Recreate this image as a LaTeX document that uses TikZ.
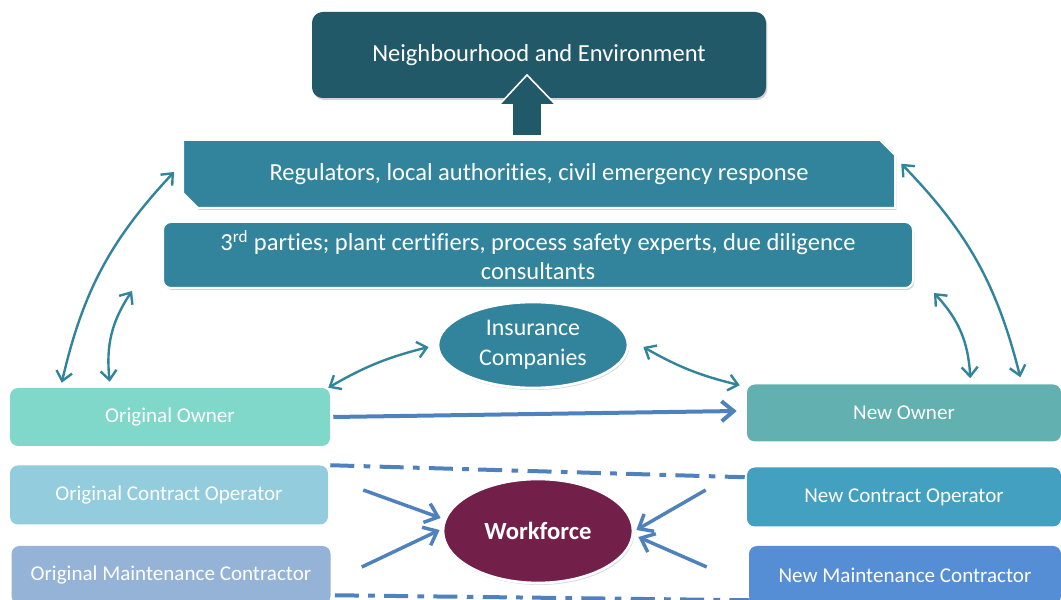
\documentclass[tikz,border=0pt]{standalone}
\usepackage{fontspec}
\setmainfont{Carlito}[Ligatures=NoCommon]
\usetikzlibrary{arrows.meta,shapes.misc,shapes.geometric,shadows}
\definecolor{envteal}{HTML}{215968}
\definecolor{regteal}{HTML}{31849B}
\definecolor{ownerL}{HTML}{80D8CB}
\definecolor{operL}{HTML}{93CDDD}
\definecolor{maintL}{HTML}{95B3D7}
\definecolor{ownerR}{HTML}{62B0B0}
\definecolor{operR}{HTML}{43A0C0}
\definecolor{maintR}{HTML}{558ED5}
\definecolor{linkblue}{HTML}{4F81BD}
\definecolor{wine}{HTML}{722049}
\def\PX{0.75pt}
\tikzset{
BOX/.style={draw=none, rounded corners=6pt, text=white, inner sep=0pt,
  font=\fontsize{15.8}{18}\selectfont, minimum width=#1*\PX, minimum height=58*\PX},
BOX/.default = 318,
BANNER/.style={fill=regteal, draw=white, line width=1.5pt, text=white,
  drop shadow={opacity=0.35, shadow xshift=1pt, shadow yshift=-1.5pt},
  font=\fontsize{18.4}{22}\selectfont, inner sep=0pt},
BLOB/.style={ellipse, draw=white, line width=2pt, text=white, inner sep=0pt,
  drop shadow={opacity=0.3, shadow xshift=1pt, shadow yshift=-1.5pt}},
TWOWAY/.style={draw=regteal, line width=1.8pt,
  {Straight Barb[length=7pt,width=12pt]}-{Straight Barb[length=7pt,width=12pt]}},
ONEWAY/.style={draw=linkblue, line width=#1, -{Straight Barb[length=9pt,width=15pt]}},
ONEWAY/.default = 2.6pt,
SPLIT/.style={draw=linkblue, line width=3pt, dash pattern=on 18pt off 7pt on 5pt off 7pt},
}
\begin{document}
\begin{tikzpicture}[x=0.75pt, y=0.75pt]
\clip (0,0) rectangle (1061,600);
\node[BOX, fill=envteal, rounded corners=8pt, minimum width=454*\PX, minimum height=86*\PX,
  font=\fontsize{18.4}{22}\selectfont,
  drop shadow={opacity=0.35, shadow xshift=1pt, shadow yshift=-1.5pt}] (env) at (539,545)
  {Neighbourhood and Environment};
\node[BANNER, chamfered rectangle, chamfered rectangle corners={north east,south west},
  chamfered rectangle xsep=8pt, minimum width=712*\PX, minimum height=68*\PX] (reg) at (539,426)
  {Regulators, local authorities, civil emergency response};
\node[BANNER, rectangle, rounded corners=6pt, minimum width=750*\PX, minimum height=66*\PX,
  align=center] (third) at (538,345)
  {3\textsuperscript{rd} parties; plant certifiers, process safety experts, due diligence\\consultants};
% block arrow up to the neighbourhood
\draw[fill=envteal, draw=white, line width=1.2pt]
  (512,464) -- (512,495) -- (499,495) -- (527,525) -- (556,495) -- (542,495) -- (542,464) -- cycle;
\node[BLOB, fill=regteal, minimum width=190*\PX, minimum height=86*\PX, align=center,
  font=\fontsize{17.9}{22.5}\selectfont] (ins) at (533,255) {Insurance\\Companies};
\node[BOX=320, fill=ownerL] (oo) at (170,183) {Original Owner};
\node[BOX, fill=operL, minimum height=59*\PX] (oco) at (169,105) {Original Contract Operator};
\node[BOX=319, fill=maintL] (omc) at (171,25) {Original Maintenance Contractor};
\node[BOX=314, fill=ownerR, minimum height=57*\PX] (no) at (904,187) {New Owner};
\node[BOX=314, fill=operR, minimum height=59*\PX] (nco) at (904,103) {New Contract Operator};
\node[BOX=312, fill=maintR] (nmc) at (905,25) {New Maintenance Contractor};
\node[BLOB, fill=wine, minimum width=190*\PX, minimum height=104*\PX,
  font=\fontsize{18.5}{22}\selectfont\bfseries] (wf) at (538,69) {Workforce};
% two way links
\draw[TWOWAY] ([xshift=52*\PX,yshift=5*\PX]oo.north west) to[bend left=15] ([xshift=-8*\PX,yshift=2*\PX]reg.west);
\draw[TWOWAY] ([xshift=100*\PX,yshift=6*\PX]oo.north west) to[bend left=20] ([xshift=-30*\PX,yshift=-2*\PX]third.south west);
\draw[TWOWAY] ([xshift=-41*\PX,yshift=7*\PX]no.north east) to[bend right=15] ([xshift=13*\PX,yshift=-17*\PX]reg.north east);
\draw[TWOWAY] ([xshift=-91*\PX,yshift=6*\PX]no.north east) to[bend right=20] ([xshift=20*\PX,yshift=-4*\PX]third.south east);
\draw[TWOWAY] ([xshift=-2*\PX]oo.north east) to[bend left=8] ([xshift=-8*\PX,yshift=-2*\PX]ins.west);
\draw[TWOWAY] ([xshift=-7*\PX,yshift=-1*\PX]no.north west) to[bend left=8] ([xshift=14*\PX,yshift=-2*\PX]ins.east);
% ownership transfer
\draw[ONEWAY=3pt] ([xshift=3*\PX]oo.east) -- ([xshift=-10*\PX,yshift=2*\PX]no.west);
\draw[SPLIT] ([xshift=2*\PX]oco.north east) -- ([xshift=-2*\PX,yshift=-10*\PX]nco.north west);
\draw[SPLIT] ([xshift=4*\PX,yshift=9*\PX]omc.south east) -- ([xshift=1*\PX,yshift=4*\PX]nmc.south west);
% into the workforce
\foreach \src/\sx/\sy/\anc/\tx/\ty in {oco/35/5/west/-1/13, omc/31/8/west/-2/1, nco/-41/7/east/2/1, nmc/-42/8/east/4/-6}
  \draw[ONEWAY] ([xshift=\sx*\PX,yshift=\sy*\PX]\src.\ifnum\sx>0 east\else west\fi) -- ([xshift=\tx*\PX,yshift=\ty*\PX]wf.\anc);
\end{tikzpicture}
\end{document}
